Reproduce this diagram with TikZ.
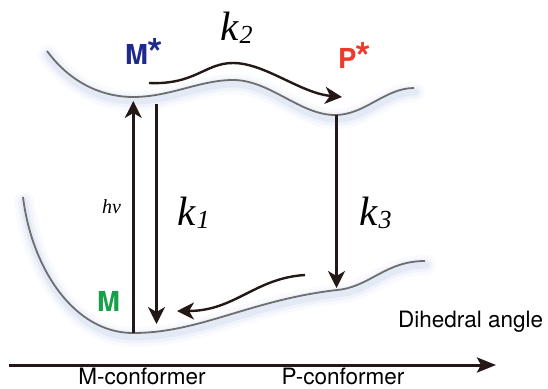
\documentclass[tikz,border=0pt]{standalone}
\usepackage{fontspec}
\setmainfont{TeX Gyre Heros}
\newfontfamily\ratefont{Liberation Serif}
\usetikzlibrary{arrows.meta}
\definecolor{StateBlue}{HTML}{1E2A8C}
\definecolor{StateRed}{HTML}{EE3A2A}
\definecolor{StateGreen}{HTML}{17A04A}
\definecolor{CurveGray}{HTML}{6E6E6E}
\definecolor{CurveGlow}{HTML}{A8B8E2}
\definecolor{InkBlack}{HTML}{231815}
\newcommand{\ratek}[1]{k\kern0.03em\raisebox{-3pt}{\fontsize{26}{26}\selectfont #1}}
\newcommand{\excited}{\kern-0.03em\raisebox{-3pt}{\scalebox{1.45}{*}}}
\def\upperpes{(47,51) .. controls (72,85) and (105,97) .. (133,97) .. controls (170,97) and (200,80) .. (233,80) .. controls (270,80) and (300,115) .. (335,115) .. controls (365,115) and (385,88) .. (414,88)}
\def\lowerpes{(23,197) .. controls (32,270) and (75,333) .. (133,333) .. controls (200,333) and (250,300) .. (337,290) .. controls (370,287) and (385,261) .. (425,261)}

\begin{document}
\begin{tikzpicture}[x=1pt,y=-1pt]
    \tikzset{curve/.style={draw=CurveGray,line width=1.8pt},
      glow/.style={draw=CurveGlow,line cap=round,shift={(1,4)}},
      trans/.style={draw=InkBlack,line width=2.4pt,-{Stealth[length=17pt,width=17pt,inset=5pt]}},
      state/.style={font=\fontsize{27.5}{27.5}\selectfont\bfseries,inner sep=0pt,anchor=base west},
      rate/.style={font=\ratefont\itshape\fontsize{41}{41}\selectfont,inner sep=0pt,anchor=base west},
      axislabel/.style={font=\fontsize{22.5}{22.5}\selectfont,inner sep=0pt,anchor=base}}
    \useasboundingbox (0,0) rectangle (548,388);
    % potential energy surfaces
    \foreach \w/\o in {20/0.07,13/0.11,7/0.16}{
      \draw[glow,line width=\w pt,opacity=\o] \upperpes;
      \draw[glow,line width=\w pt,opacity=\o] \lowerpes;
    }
    \draw[curve] \upperpes;
    \draw[curve] \lowerpes;
    % end points on the surfaces
    \coordinate (gM) at (133.3,333);
    \coordinate (eM) at (133.3,101);
    \coordinate (eMd) at (156.5,104);
    \coordinate (gMd) at (156.5,324);
    \coordinate (eP) at (336.5,115);
    \coordinate (gP) at (336.5,288);
    \coordinate (ktwos) at (149,83);
    \coordinate (ktwoe) at (342,97);
    \coordinate (relaxs) at (305,275);
    \coordinate (relaxe) at (177,311);
    \coordinate (axstart) at (9,365);
    \coordinate (axend) at (496,365);
    % states and rates
    \node[state,text=StateBlue] (mstar) at (125,64) {M\excited};
    \node[state,text=StateRed] (pstar) at (338,68) {P\excited};
    \node[state,text=StateGreen] (mground) at (97,311) {M};
    \node[rate] (ktwo) at (220,40) {\ratek{2}};
    \node[rate] (kone) at (177,225) {\ratek{1}};
    \node[rate] (kthree) at (359,225) {\ratek{3}};
    \node[font=\ratefont\itshape\fontsize{20}{20}\selectfont,inner sep=0pt,anchor=base west] (hnu) at (102,213) {hv};
    \draw[trans] (gM) -- (eM);
    \draw[trans] (eMd) -- (gMd);
    \draw[trans] (eP) -- (gP);
    \draw[trans] (ktwos) .. controls (195,85) and (205,63) .. (233,63) .. controls (265,63) and (300,93) .. (ktwoe);
    \draw[trans] (relaxs) .. controls (255,278) and (235,311) .. (relaxe);
    % reaction coordinate
    \draw[draw=InkBlack,line width=3pt,-{Stealth[length=19pt,width=15pt,inset=4pt]}] (axstart) -- (axend);
    \node[axislabel,anchor=base west] (dihedral) at (398,327) {Dihedral angle};
    \node[axislabel] (mconf) at (142,384) {M-conformer};
    \node[axislabel] (pconf) at (343,384) {P-conformer};
  \end{tikzpicture}
\end{document}
